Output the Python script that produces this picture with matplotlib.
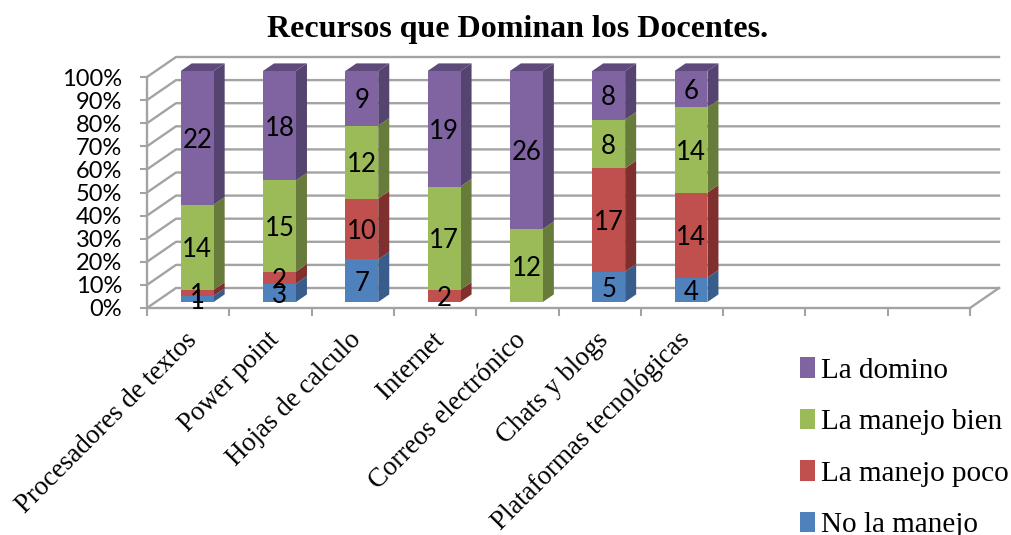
import numpy as np
import matplotlib
matplotlib.use('Agg')
import matplotlib.pyplot as plt
from matplotlib.patches import Polygon, Patch
from matplotlib.ticker import PercentFormatter

categories = ['Procesadores de textos', 'Power point', 'Hojas de calculo', 'Internet',
              'Correos electrónico', 'Chats y blogs', 'Plataformas tecnológicas']
no_manejo = [1, 3, 7, 0, 0, 5, 4]
manejo_poco = [1, 2, 10, 2, 0, 17, 14]
manejo_bien = [14, 15, 12, 17, 12, 8, 14]
domino = [22, 18, 9, 19, 26, 8, 6]
series = [no_manejo, manejo_poco, manejo_bien, domino]
names = ['No la manejo', 'La manejo poco', 'La manejo bien', 'La domino']
front = ['#4F81BD', '#C0504D', '#9BBB59', '#8064A2']
side = ['#385D8A', '#7F2F2D', '#677B3A', '#554370']
n_slots = 10

W, H = 1011, 535
fig = plt.figure(figsize=(W/100, H/100), dpi=100)
ax = fig.add_axes([147/W, 1-308/H, (970-147)/W, (308-77)/H])
ax.set_xlim(0, n_slots)
ax.set_ylim(0, 100)

# depth of the fake 3d box, in data units
dx = 29/82.3
dy = 20/2.31
grid = '#a3a3a3'

# walls
yticks = np.arange(0, 101, 10)
for y in yticks:
    ax.plot([0, dx, n_slots+dx], [y, y+dy, y+dy], color=grid, lw=1.7, clip_on=False, zorder=1)
ax.plot([n_slots, n_slots+dx], [0, dy], color=grid, lw=1.7, clip_on=False, zorder=1)

# bars
totals = np.sum(series, axis=0)
bar_w = 0.4
d0, d1 = 0.3, 0.68
for i in range(len(categories)):
    left = i+0.5-bar_w/2+d0*dx+0.004
    right = left+bar_w
    base = d0*dy
    bottom = 0
    for s in range(4):
        v = series[s][i]
        if v == 0:
            continue
        h = 100*v/totals[i]
        y0, y1 = bottom+base, bottom+h+base
        ox, oy = (d1-d0)*dx, (d1-d0)*dy
        ax.add_patch(Polygon([(right, y0), (right+ox, y0+oy), (right+ox, y1+oy), (right, y1)],
                             fc=side[s], ec='none', clip_on=False, zorder=3))
        ax.add_patch(Polygon([(left, y0), (right, y0), (right, y1), (left, y1)],
                             fc=front[s], ec='none', clip_on=False, zorder=4))
        if s == 3:
            ax.add_patch(Polygon([(left, y1), (right, y1), (right+ox, y1+oy), (left+ox, y1+oy)],
                                 fc='#5F4A7C', ec='none', clip_on=False, zorder=3))
        ax.text((left+right)/2, (y0+y1)/2-1.1, str(v), ha='center', va='center',
                fontsize=18.5, family='Lato', color='black', zorder=6)
        bottom += h

# axes
for sp in ['top', 'right']:
    ax.spines[sp].set_visible(False)
for sp in ['left', 'bottom']:
    ax.spines[sp].set_color(grid)
    ax.spines[sp].set_linewidth(1.7)
ax.set_facecolor('none')
ax.yaxis.set_major_formatter(PercentFormatter(100, decimals=0))
ax.set_yticks(yticks)
ax.tick_params(axis='y', labelsize=17, length=5, width=1.5, color=grid, pad=13)
for t in ax.get_yticklabels():
    t.set_family('Lato')
ax.set_xticks(np.arange(n_slots+1))
ax.set_xticklabels([])
ax.tick_params(axis='x', which='major', length=5.5, width=1.5, color=grid)
ax.set_xticks(np.arange(len(categories))+0.45, minor=True)
ax.set_xticklabels(categories, minor=True, rotation=45, ha='right', va='top',
                   rotation_mode='anchor', fontsize=19.4, family='Liberation Serif')
ax.tick_params(axis='x', which='minor', length=0, pad=14)

fig.text(518/W, 1-30/H, 'Recursos que Dominan los Docentes.', ha='center', va='center',
         fontsize=23, fontweight='bold', family='Liberation Serif')

handles = [Patch(fc=front[s], label=names[s]) for s in range(3, -1, -1)]
fig.legend(handles=handles, loc='upper left', bbox_to_anchor=(800/W, 1-357.5/H), frameon=False,
           prop={'family': 'Liberation Serif', 'size': 21}, labelspacing=0.86,
           handlelength=0.52, handleheight=0.7, handletextpad=0.2, borderpad=0, borderaxespad=0)

fig.savefig('out.png', dpi=100)
